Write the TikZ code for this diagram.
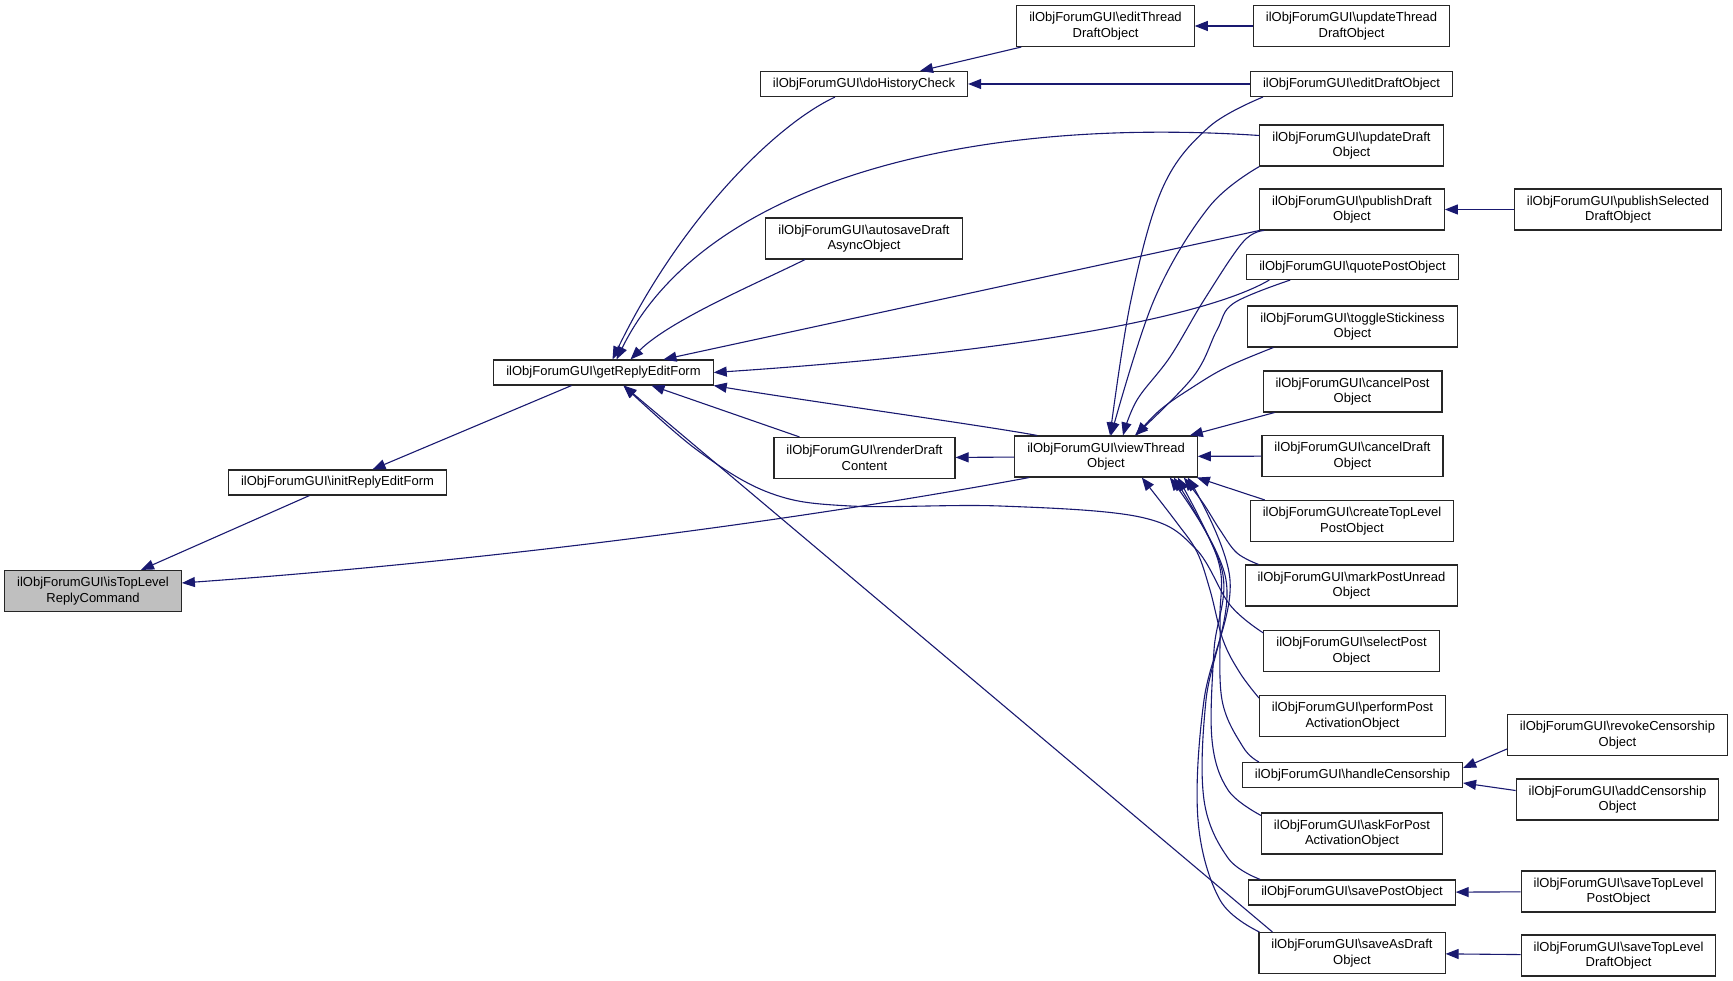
\documentclass[tikz,border=0pt]{standalone}
\usepackage{fontspec}
\setmainfont{Liberation Sans}
\usepackage{tikz}
\usetikzlibrary{arrows.meta}
\usetikzlibrary{positioning}
\definecolor{edgeblue}{RGB}{25,25,112}
\definecolor{boxgray}{RGB}{191,191,191}
\newcommand{\ofg}{ilObjForumGUI\textbackslash}
\begin{document}
\begin{tikzpicture}[x=1pt,y=-1pt,
		call/.style={draw=edgeblue,line width=1.1pt,-{Triangle[length=13pt,width=10pt]}}]
	\useasboundingbox (0,0) rectangle (1733,981);
	\begin{scope}[every node/.style={draw=black!85,fill=white,line width=1.1pt,align=center,
			inner xsep=12.5pt,inner ysep=3pt,minimum height=25pt,font=\fontsize{13}{15.3}\selectfont},
			two/.style={minimum height=41pt}]
		\node[two,fill=boxgray] (TL) at (93,591) {\ofg isTopLevel\\ReplyCommand};
		\node (IR) at (337.5,482.5) {\ofg initReplyEditForm};
		\node (GR) at (603.5,372.5) {\ofg getReplyEditForm};
		\node (DH) at (864,84) {\ofg doHistoryCheck};
		\node[two] (AS) at (864,238.5) {\ofg autosaveDraft\\AsyncObject};
		\node[two] (RD) at (864.5,458) {\ofg renderDraft\\Content};
		\node[two] (VT) at (1106,456.5) {\ofg viewThread\\Object};
		\node[two] (ET) at (1105.5,26) {\ofg editThread\\DraftObject};
		\node[two] (UT) at (1351.5,26) {\ofg updateThread\\DraftObject};
		\node (ED) at (1351.5,84) {\ofg editDraftObject};
		\node[two] (UD) at (1351.5,145.5) {\ofg updateDraft\\Object};
		\node[two] (PD) at (1352,209.5) {\ofg publishDraft\\Object};
		\node[two] (PS) at (1618,209.5) {\ofg publishSelected\\DraftObject};
		\node (QP) at (1352.5,267) {\ofg quotePostObject};
		\node[two] (TS) at (1352.5,326.5) {\ofg toggleStickiness\\Object};
		\node[two] (CP) at (1352.5,391.5) {\ofg cancelPost\\Object};
		\node[two] (CD) at (1352.5,456) {\ofg cancelDraft\\Object};
		\node[two] (CT) at (1352,521) {\ofg createTopLevel\\PostObject};
		\node[two] (MU) at (1351.5,585.5) {\ofg markPostUnread\\Object};
		\node[two] (SL) at (1351.5,651) {\ofg selectPost\\Object};
		\node[two] (PP) at (1352.5,716) {\ofg performPost\\ActivationObject};
		\node (HC) at (1352.5,775) {\ofg handleCensorship};
		\node[two] (AF) at (1352,833.5) {\ofg askForPost\\ActivationObject};
		\node (SP) at (1352,892.5) {\ofg savePostObject};
		\node[two] (SD) at (1352,953) {\ofg saveAsDraft\\Object};
		\node[two] (RC) at (1617.5,735) {\ofg revokeCensorship\\Object};
		\node[two] (AC) at (1617.5,799.5) {\ofg addCensorship\\Object};
		\node[two] (STP) at (1618.5,891.5) {\ofg saveTopLevel\\PostObject};
		\node[two] (STD) at (1618.5,955.5) {\ofg saveTopLevel\\DraftObject};
	\end{scope}
	\begin{scope}[every edge/.style={call}]
		% callers of isTopLevelReplyCommand
		\path ([xshift=-28]IR.south) edge ([xshift=48]TL.north);
		\draw[call] ([xshift=15]VT.south west) .. controls (800,520) and (500,560) .. ([yshift=8]TL.east);
		% callers of getReplyEditForm
		\path ([xshift=-32]GR.south) edge ([xshift=35]IR.north);
		\draw[call] ([xshift=-29]DH.south) .. controls (775,125) and (680,220) .. ([xshift=9]GR.north);
		\draw[call] ([yshift=10]UD.west) .. controls (950,115) and (700,190) .. ([xshift=13]GR.north);
		\draw[call] ([xshift=-59]AS.south) .. controls (760,282) and (670,320) .. ([xshift=27]GR.north);
		\path (PD.south west) edge ([xshift=60]GR.north);
		\draw[call] ([xshift=23]QP.south west) .. controls (1215,312) and (1050,350) .. (GR.east);
		\draw[call] ([xshift=23]VT.north west) .. controls (980,425) and (800,400) .. (GR.south east);
		\path ([xshift=-65]RD.north) edge ([xshift=48]GR.south);
		\draw[call] plot[smooth,tension=0.6] coordinates {([yshift=-3]SL.north west) (1230,605) (1195,548)
			(1140,517) (1000,506) (850,506) (770,493) (697,450) ([xshift=20]GR.south)};
		\path ([xshift=14]SD.north west) edge ([xshift=20]GR.south);
		% callers of doHistoryCheck
		\path (UT) edge (ET);
		\path ([xshift=5]ET.south west) edge ([xshift=56]DH.north);
		\path (ED) edge (DH);
		% callers of viewThreadObject
		\path (VT) edge (RD);
		\draw[call] plot[smooth,tension=0.6] coordinates {([xshift=13]ED.south west) (1209,127) (1163,187)
			(1131,300) ([xshift=4]VT.north)};
		\draw[call] plot[smooth,tension=0.6] coordinates {(UD.south west) (1209,207) (1154,300) ([xshift=5]VT.north)};
		\draw[call] plot[smooth,tension=0.6] coordinates {([xshift=5]PD.south west) (1243,242) (1204,300)
			(1170,357) (1137,400) ([xshift=17]VT.north)};
		\draw[call] plot[smooth,tension=0.6] coordinates {([xshift=44]QP.south west) (1234,303) (1217,330)
			(1193,377) ([xshift=29]VT.north)};
		\draw[call] plot[smooth,tension=0.6] coordinates {([xshift=26]TS.south west) (1227,367) (1193,387)
			(1160,410) ([xshift=30]VT.north)};
		\path ([xshift=12]CP.south west) edge ([xshift=-8]VT.north east);
		\path (CD) edge (VT);
		\path ([xshift=15]CT.north west) edge ([xshift=-1]VT.south east);
		\draw[call] plot[smooth,tension=0.6] coordinates {([xshift=14]MU.north west) (1237,553) (1220,530)
			(1203,503) ([xshift=-14]VT.south east)};
		\draw[call] plot[smooth,tension=0.6] coordinates {([yshift=-3]PP.north west) (1240,673) (1223,640)
			(1210,590) (1197,552) (1177,523) ([xshift=-56]VT.south east)};
		\draw[call] plot[smooth,tension=0.6] coordinates {([xshift=17]HC.north west) (1243,747) (1222,700)
			(1220,620) (1218,560) ([xshift=-20]VT.south east)};
		\draw[call] plot[smooth,tension=0.6] coordinates {([yshift=-3]AF.north west) (1228,790) (1212,740)
			(1214,650) (1222,570) ([xshift=-24]VT.south east)};
		\draw[call] plot[smooth,tension=0.6] coordinates {([xshift=12]SP.north west) (1228,858) (1204,800)
			(1206,700) (1226,580) ([xshift=-28]VT.south east)};
		\draw[call] plot[smooth,tension=0.6] coordinates {([xshift=1]SD.north west) (1220,900) (1198,820)
			(1204,700) (1230,580) ([xshift=-10]VT.south east)};
		% the rest
		\path (PS) edge (PD);
		\path ([yshift=-14]RC.west) edge ([yshift=7]HC.east);
		\path ([yshift=9]AC.west) edge ([yshift=-8]HC.east);
		\path (STP) edge (SP);
		\path (STD) edge (SD);
	\end{scope}
\end{tikzpicture}
\end{document}
